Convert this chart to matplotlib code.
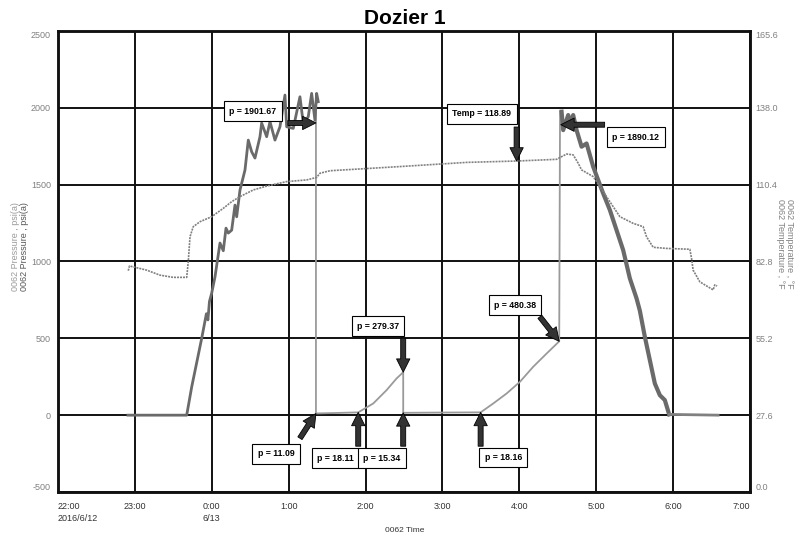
import matplotlib
matplotlib.use('Agg')
import matplotlib.pyplot as plt
import numpy as np

plt.rcParams['font.family'] = ['Liberation Sans Narrow', 'Liberation Sans', 'DejaVu Sans']

# time in hours after 22:00 on 2016/6/12
t_press1 = [0.910, 1.674, 1.739, 1.869, 1.930, 1.950, 1.970, 1.999, 2.042, 2.107, 2.150, 2.185,
            2.215, 2.259, 2.302, 2.324, 2.367, 2.432, 2.475, 2.519, 2.562, 2.627, 2.649, 2.714,
            2.757, 2.822, 2.887, 2.952, 2.974, 3.060, 3.147, 3.190, 3.255, 3.299, 3.342, 3.364,
            3.385]
press1 = [0, 0, 184, 500, 660, 620, 740, 794, 900, 1120, 1070, 1217,
          1185, 1204, 1367, 1291, 1465, 1595, 1790, 1714, 1673, 1812, 1901, 1812,
          1910, 1790, 1877, 2083, 1877, 1866, 2072, 1899, 1942, 2094, 1920, 2094,
          2040]

t_press2 = [6.550, 6.571, 6.636, 6.658, 6.701, 6.745, 6.810, 6.875, 6.918, 6.961, 7.026, 7.091,
            7.178, 7.265, 7.351, 7.438, 7.525, 7.568, 7.633, 7.698, 7.763, 7.828, 7.893, 7.949]
press2 = [1975, 1855, 1953, 1899, 1953, 1855, 1747, 1768, 1693, 1617, 1530, 1443,
          1335, 1204, 1074, 890, 760, 680, 510, 358, 206, 130, 98, 5]
t_press2_end = [7.949, 8.586]
press2_end = [5, 0]

t_press3 = [3.355, 3.355, 3.60, 3.905, 4.100, 4.274, 4.404, 4.490, 4.490, 5.00, 5.497,
            5.661, 5.835, 6.008, 6.181, 6.355, 6.519, 6.530]
press3 = [2050, 11.09, 14, 18.11, 76, 163, 239, 279.37, 15.34, 17, 18.16,
          76, 141, 217, 315, 401, 480.38, 1975]

t_temp = [0.914, 0.930, 1.153, 1.326, 1.499, 1.674, 1.694, 1.717, 1.759, 1.847, 1.999, 2.150,
          2.259, 2.367, 2.540, 2.714, 2.974, 3.234, 3.364, 3.407, 3.537, 4.447, 5.315, 5.965,
          6.485, 6.615, 6.701, 6.766, 6.810, 6.961, 7.048, 7.221, 7.308, 7.481, 7.611, 7.655,
          7.741, 7.915, 8.218, 8.240, 8.261, 8.348, 8.521, 8.543, 8.573]
temp = [79.5, 81.2, 79.7, 77.9, 77.1, 77.1, 82.7, 91.7, 95.3, 97.1, 98.9, 101.9,
        104.3, 106.1, 108.5, 109.9, 111.5, 112.1, 113.0, 114.5, 115.4, 116.9, 118.4, 118.89,
        119.5, 121.4, 121.1, 118.1, 115.7, 113.3, 109.7, 102.5, 98.9, 96.5, 95.3, 91.7,
        87.9, 87.5, 87.2, 84.0, 79.7, 75.5, 72.6, 74.4, 74.0]

xtick_labels = ['22:00\n2016/6/12', '23:00', '0:00\n6/13', '1:00', '2:00', '3:00',
                '4:00', '5:00', '6:00', '7:00']
press_ticks = [-500, 0, 500, 1000, 1500, 2000, 2500]
temp_ticks = [0.0, 27.6, 55.2, 82.8, 110.4, 138.0, 165.6]

# (text, box x, box y, arrow start x, arrow start y, target x, target y, axis)
notes = [
    ('p = 1901.67', 2.536, 1979, 2.99, 1901.67, 3.355, 1901.67, 'p'),
    ('p = 1890.12', 7.516, 1810, 7.11, 1890.12, 6.54, 1890.12, 'p'),
    ('Temp = 118.89', 5.514, 135.8, 5.965, 131.1, 5.965, 118.89, 't'),
    ('p = 279.37', 4.161, 579, 4.49, 501, 4.49, 279.37, 'p'),
    ('p = 480.38', 5.943, 716, 6.268, 640, 6.519, 480.38, 'p'),
    ('p = 11.09', 2.835, -252, 3.147, -150, 3.355, 11.09, 'p'),
    ('p = 18.11', 3.613, -280, 3.905, -202, 3.905, 18.11, 'p'),
    ('p = 15.34', 4.213, -280, 4.49, -202, 4.49, 15.34, 'p'),
    ('p = 18.16', 5.791, -276, 5.497, -202, 5.497, 18.16, 'p'),
]

fig = plt.figure(figsize=(8.09, 5.39), dpi=100)
ax = fig.add_axes([0.0717, 0.0872, 0.8553, 0.8553])
ax2 = ax.twinx()

ax.set_xlim(0, 9)
ax.set_ylim(-500, 2500)
ax2.set_ylim(0, 165.6)
ax.set_xticks(range(10))
ax.set_xticklabels(xtick_labels, fontsize=6.5, color='#333333', linespacing=1.5)
for lab in ax.get_xticklabels():
    lab.set_multialignment('left')
ax.get_xticklabels()[0].set_ha('left')
ax.get_xticklabels()[-1].set_ha('right')
ax.set_yticks(press_ticks)
ax.set_yticklabels([str(v) for v in press_ticks], fontsize=6.5, color='#808080')
ax2.set_yticks(temp_ticks)
ax2.set_yticklabels(['%.1f' % v for v in temp_ticks], fontsize=6.5, color='#808080')
for a in (ax, ax2):
    labs = a.get_yticklabels()
    labs[0].set_va('bottom')
    labs[-1].set_va('top')
ax.tick_params(axis='x', length=0, pad=7)
ax.tick_params(axis='y', length=0, pad=5)
ax2.tick_params(axis='y', length=0, pad=4)
ax.grid(True, color='#111111', lw=1.4)
ax.set_axisbelow(True)
for sp in list(ax.spines.values()) + list(ax2.spines.values()):
    sp.set_linewidth(1.8)
    sp.set_color('#111111')

ax.plot(t_press3, press3, color='#9a9a9a', lw=1.3, zorder=3)
ax.plot(t_press1, press1, color='#6a6a6a', lw=2.0, zorder=4)
ax.plot(t_press2, press2, color='#6a6a6a', lw=3.0, zorder=4)
ax.plot(t_press2_end, press2_end, color='#808080', lw=2.0, zorder=4)
ax2.plot(t_temp, temp, color='#808080', lw=1.2, ls=(0, (1.2, 0.6)), zorder=3)

for txt, x, y, sx, sy, tx, ty, which in notes:
    a = ax if which == 'p' else ax2
    a.annotate('', xy=(tx, ty), xytext=(sx, sy), zorder=5,
               arrowprops=dict(arrowstyle='simple,head_length=0.8,head_width=0.8,tail_width=0.3',
                               fc='#333333', ec='black', lw=0.6,
                               shrinkA=0, shrinkB=0, mutation_scale=12))
    a.text(x, y, txt, fontsize=6.3, fontweight='bold', ha='center', va='center', zorder=6,
           bbox=dict(boxstyle='square,pad=0.6', fc='white', ec='black', lw=0.8))

fig.text(0.5, 0.966, 'Dozier 1', ha='center', va='center', fontsize=15, fontweight='bold',
         family=['Liberation Sans', 'DejaVu Sans'])
fig.text(0.5, 0.015, '0062 Time', ha='center', va='center', fontsize=6, color='#333333')
fig.text(0.019, 0.542, '0062 Pressure , psi(a)', rotation=90, ha='center', va='center',
         fontsize=6.5, color='#9a9a9a')
fig.text(0.030, 0.542, '0062 Pressure , psi(a)', rotation=90, ha='center', va='center',
         fontsize=6.5, color='#555555')
fig.text(0.970, 0.548, '0062 Temperature , °F\n0062 Temperature , °F', rotation=270,
         ha='center', va='center', fontsize=6.5, color='#808080', linespacing=1.0)

fig.savefig('out.png', dpi=100)
